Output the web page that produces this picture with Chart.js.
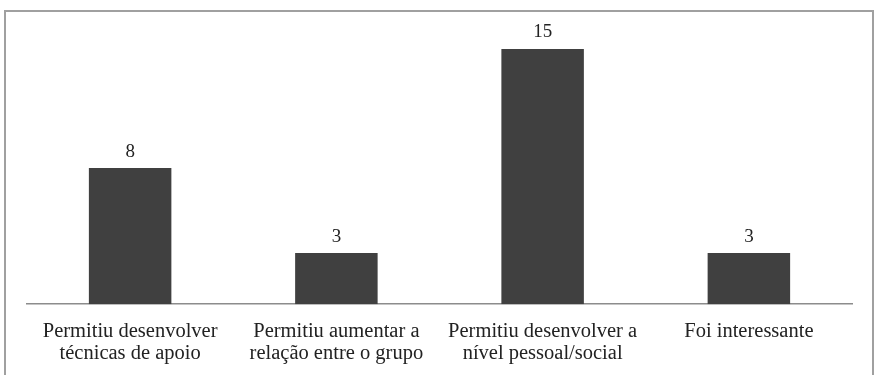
<!DOCTYPE html>
<html>
<head>
<meta charset="utf-8">
<script src="https://cdn.jsdelivr.net/npm/chart.js@4/dist/chart.umd.min.js"></script>
<style>
  html, body { margin: 0; padding: 0; background: #fff; }
  #wrap { position: absolute; left: 0; top: 0; width: 877px; height: 375px; }
  #frame { position: absolute; left: 4px; top: 10px; width: 866px; height: 380px;
           border: 2px solid #a0a0a0; pointer-events: none; }
</style>
</head>
<body>
<div id="wrap"><canvas id="myChart" width="877" height="375"></canvas></div>
<div id="frame"></div>
<script>
// categorias e valores
const categorias = [
  ['Permitiu desenvolver', 'técnicas de apoio'],
  ['Permitiu aumentar a', 'relação entre o grupo'],
  ['Permitiu desenvolver a', 'nível pessoal/social'],
  ['Foi interessante']
];
const valores = [8, 3, 15, 3];

// rótulos por cima das barras
const rotulosBarras = {
  id: 'rotulosBarras',
  afterDatasetsDraw(chart) {
    const ctx = chart.ctx;
    const meta = chart.getDatasetMeta(0);
    ctx.save();
    ctx.font = '19px "Liberation Serif", serif';
    ctx.fillStyle = '#222';
    ctx.textAlign = 'center';
    ctx.textBaseline = 'bottom';
    meta.data.forEach((bar, i) => {
      ctx.fillText(String(valores[i]), bar.x, bar.y - 7);
    });
    ctx.restore();
  }
};

const dados = {
  labels: categorias,
  datasets: [{
    data: valores,
    backgroundColor: '#404040',
    borderWidth: 0,
    barPercentage: 0.4,
    categoryPercentage: 1
  }]
};

const opcoes = {
  responsive: false,
  animation: false,
  layout: { padding: { left: 27, right: 25, top: 32, bottom: -7 } },
  plugins: {
    legend: { display: false },
    tooltip: { enabled: false }
  },
  scales: {
    x: {
      grid: { display: false, drawTicks: false },
      border: { display: true, color: '#8c8c8c', width: 1.5 },
      ticks: {
        color: '#222',
        padding: 17,
        maxRotation: 0,
        autoSkip: false,
        font: { family: '"Liberation Serif", serif', size: 20.5, lineHeight: 1.07 }
      }
    },
    y: {
      display: false,
      min: 0,
      max: 16
    }
  }
};

const grafico = new Chart(
  document.getElementById('myChart'),
  { type: 'bar', data: dados, options: opcoes, plugins: [rotulosBarras] }
);
</script>
</body>
</html>
